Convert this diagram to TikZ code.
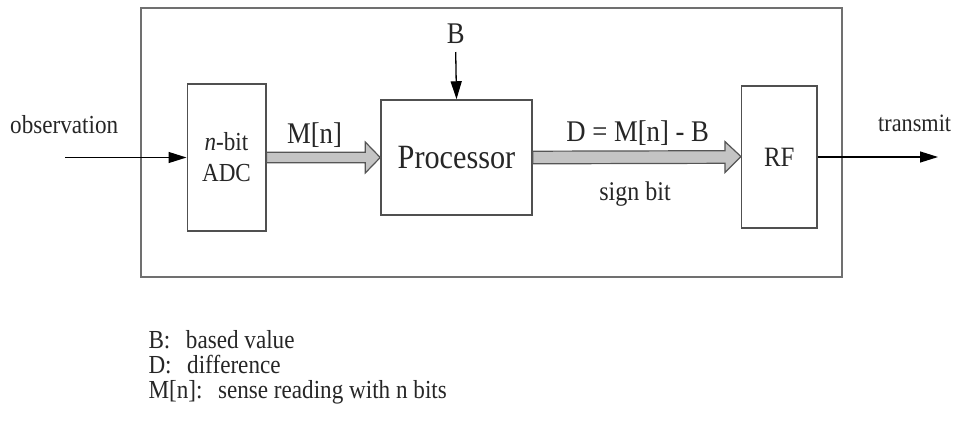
\documentclass[tikz,border=0pt]{standalone}
\usepackage{fontspec}
\setmainfont{Liberation Serif}[FakeStretch=0.89]
\usetikzlibrary{arrows.meta,calc}
\definecolor{txt}{HTML}{262626}
\definecolor{outerline}{HTML}{707070}
\definecolor{boxline}{HTML}{505050}
\definecolor{fatfill}{HTML}{C4C4C4}
\definecolor{fatline}{HTML}{555555}
\tikzset{
  blockbox/.style={draw=boxline, line width=1.5pt, fill=white, inner sep=0pt, text=txt},
  outerbox/.style={draw=outerline, line width=2pt, inner sep=0pt},
  lbl/.style={text=txt, inner sep=0pt},
  thinarrow/.style={draw=black, line width=1.3pt, -{Triangle[length=18pt,width=11pt]}},
  fatarrow/.style={draw=fatline, fill=fatfill, line width=1.2pt, line join=miter},
}
\begin{document}
\begin{tikzpicture}[x=1pt,y=-1pt]
\useasboundingbox (0,0) rectangle (959,434);
% outer frame
\node[outerbox, minimum width=701pt, minimum height=269pt] (outer) at (491.5,142.5) {};
% blocks
\node[blockbox, minimum width=78.5pt, minimum height=147pt, align=center,
      font=\fontsize{26}{31}\selectfont] (adc) at (226.5,157.5) {\textit{n}-bit\\ADC};
\node[blockbox, minimum width=151pt, minimum height=115pt,
      font=\fontsize{34}{40}\selectfont] (proc) at (456.5,157.5) {Processor};
\node[blockbox, minimum width=75.3pt, minimum height=141.7pt,
      font=\fontsize{28}{33}\selectfont] (rf) at (779.3,157) {RF};
% external labels
\node[lbl, anchor=base west, font=\fontsize{26}{31}\selectfont] (obs) at (10,133) {observation};
\node[lbl, anchor=base west, font=\fontsize{25}{30}\selectfont] (tx) at (878,131.7) {transmit};
\node[lbl, anchor=base, font=\fontsize{30}{36}\selectfont] (b) at (455.7,43) {B};
\coordinate (inpt) at (65,157.5);
\coordinate (outpt) at (938,157);
% thin arrows
\draw[thinarrow] (inpt) -- (adc.west);
\draw[thinarrow] (rf.east) -- (outpt);
\draw[thinarrow] ($(b.base)+(0,9)$) -- (proc.north);
% fat arrow 1
\draw[fatarrow] ($(adc.east)+(0,-5.3)$) -- ($(proc.west)+(-15,-5.3)$) -- ($(proc.west)+(-15,-15.5)$)
  -- (proc.west) -- ($(proc.west)+(-15,15.5)$) -- ($(proc.west)+(-15,5.3)$) -- ($(adc.east)+(0,5.3)$) -- cycle;
% fat arrow 2
\draw[fatarrow] ($(proc.east)+(0,-6.3)$) -- ($(rf.west)+(-16,-6.3)$) -- ($(rf.west)+(-16,-15.5)$)
  -- ($(rf.west)+(0,-0.5)$) -- ($(rf.west)+(-16,15.5)$) -- ($(rf.west)+(-16,6.3)$) -- ($(proc.east)+(0,6.3)$) -- cycle;
% arrow labels
\node[lbl, anchor=base, font=\fontsize{30}{36}\selectfont] (mn) at (314.5,143) {M[n]};
\node[lbl, anchor=base, font=\fontsize{30}{36}\selectfont] (d) at (637.7,141.7) {D = M[n] - B};
\node[lbl, anchor=base, font=\fontsize{27}{32}\selectfont] (sb) at (635,200) {sign bit};
% legend
\node[lbl, anchor=base west, font=\fontsize{26}{31}\selectfont] (leg1) at (148.3,348) {B:\hspace{0.6em}based value};
\node[lbl, anchor=base west, font=\fontsize{26}{31}\selectfont] (leg2) at (148.3,373) {D:\hspace{0.6em}difference};
\node[lbl, anchor=base west, font=\fontsize{26}{31}\selectfont] (leg3) at (148.3,398) {M[n]:\hspace{0.6em}sense reading with n bits};
\end{tikzpicture}
\end{document}
